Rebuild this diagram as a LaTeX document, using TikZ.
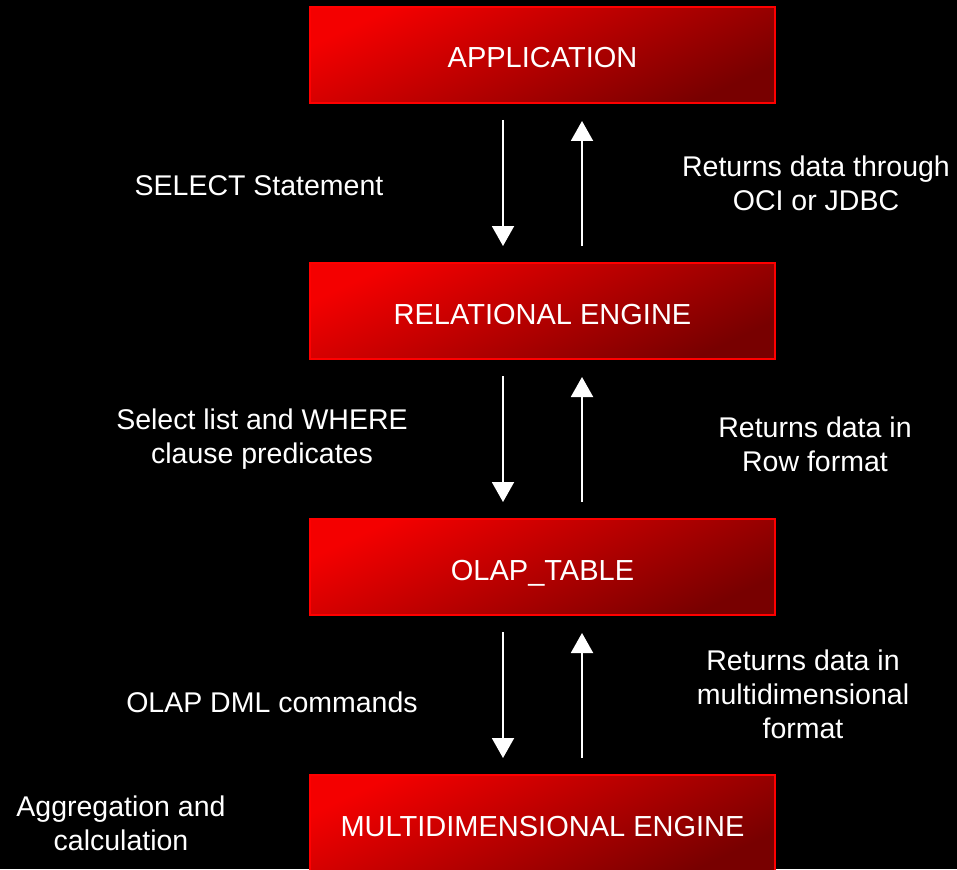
\documentclass[tikz,border=0pt]{standalone}
\usepackage{fontspec}
\setmainfont{Liberation Sans}
\usetikzlibrary{arrows.meta,calc}

\definecolor{boxhi}{HTML}{F40000}
\definecolor{boxlo}{HTML}{780000}
\definecolor{boxedge}{HTML}{FF0000}

\tikzset{
  layer/.style={draw=boxedge, line width=2pt, top color=boxhi, bottom color=boxlo,
    shading angle=25, minimum width=465pt, minimum height=96pt,
    text=white, font=\fontsize{29}{34}\selectfont, inner sep=0pt,
    text height=26pt, text depth=0pt},
  note/.style={text=white, align=center, font=\fontsize{28.5}{34}\selectfont, inner sep=0pt},
  flow/.style={draw=white, line width=2pt, -{Triangle[width=22pt,length=20pt]}}
}

\begin{document}
\begin{tikzpicture}[x=1pt,y=-1pt]
  \useasboundingbox (0,0) rectangle (957,869);
  \fill[black] (0,0) rectangle (957,869);
  \clip (0,0) rectangle (957,869);

  % the four layers
  \node[layer] (app) at (542.5,55)  {APPLICATION};
  \node[layer] (rel) at (542.5,311) {RELATIONAL ENGINE};
  \node[layer] (olap) at (542.5,567) {OLAP\_TABLE};
  \node[layer] (mde) at (542.5,823) {MULTIDIMENSIONAL ENGINE};

  % request (down) and response (up) arrows between layers
  \foreach \a/\b in {app/rel, rel/olap, olap/mde}{
    \draw[flow] ($(\a.south)+(-39.5,16)$) -- ($(\b.north)+(-39.5,-16)$);
    \draw[flow] ($(\b.north)+(39.5,-16)$) -- ($(\a.south)+(39.5,17)$);
  }

  % labels
  \node[note] (l1) at (259,186) {SELECT Statement};
  \node[note] (r1) at (816,183) {Returns data through\\OCI or JDBC};
  \node[note] (l2) at (262,439) {Select list and WHERE\\clause predicates};
  \node[note] (r2) at (815,444) {Returns data in\\Row format};
  \node[note] (l3) at (272,702) {OLAP DML commands};
  \node[note] (r3) at (803,694) {Returns data in\\multidimensional\\format};
  \node[note] (l4) at (121,823) {Aggregation and\\calculation};
\end{tikzpicture}
\end{document}
